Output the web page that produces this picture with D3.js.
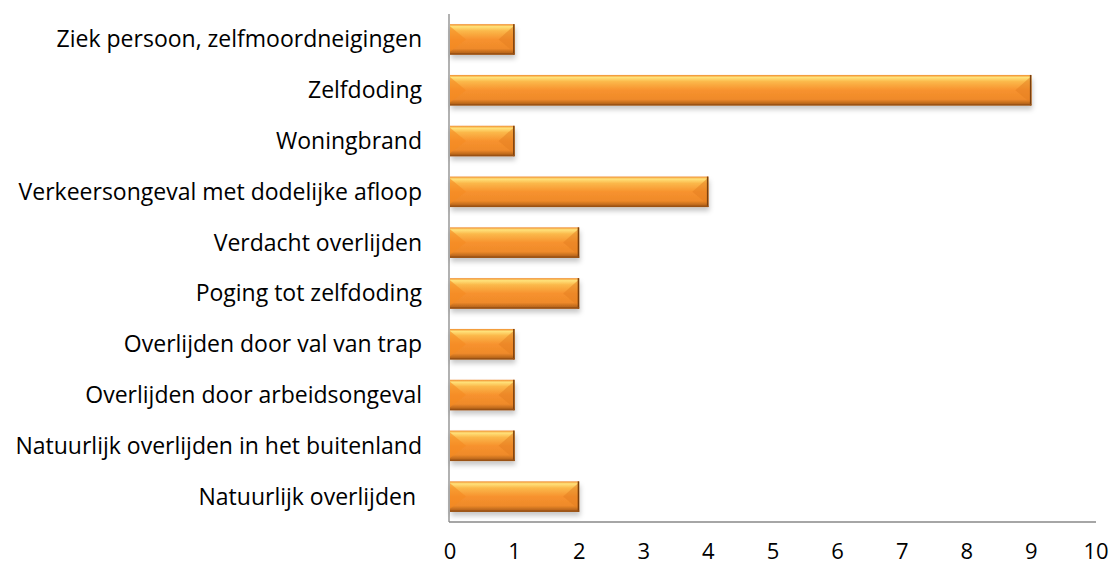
<!DOCTYPE html>
<html>
<head>
<meta charset="utf-8">
<script src="https://d3js.org/d3.v7.min.js"></script>
<style>
  body { margin: 0; background: #fff; }
  text { font-family: "Open Sans", Lato, sans-serif; fill: #000; }
</style>
</head>
<body>
<svg id="chart" width="1112" height="566"></svg>
<script>
// categories from top to bottom
var categories = [
  "Ziek persoon, zelfmoordneigingen",
  "Zelfdoding",
  "Woningbrand",
  "Verkeersongeval met dodelijke afloop",
  "Verdacht overlijden",
  "Poging tot zelfdoding",
  "Overlijden door val van trap",
  "Overlijden door arbeidsongeval",
  "Natuurlijk overlijden in het buitenland",
  "Natuurlijk overlijden "
];
var values = [1, 9, 1, 4, 2, 2, 1, 1, 1, 2];
var ticks = [0, 1, 2, 3, 4, 5, 6, 7, 8, 9, 10];

var svg = d3.select("#chart");
var margin = {top: 14, left: 450, right: 16, bottom: 44};
var width = 1112, height = 566;

var x = d3.scaleLinear().domain([0, 10]).range([margin.left, width - margin.right]);
var y = d3.scaleBand().domain(categories).range([margin.top, height - margin.bottom]).paddingInner(0.4).paddingOuter(0.2);

var defs = svg.append("defs");
var g = defs.append("linearGradient").attr("id", "barGrad").attr("x1", 0).attr("y1", 0).attr("x2", 0).attr("y2", 1);
[[0, "#f08a2c"], [0.08, "#ffe27a"], [0.22, "#fbb84a"], [0.5, "#f7922e"], [0.8, "#ef8a2a"], [0.9, "#c8701f"], [1, "#a85a18"]]
  .forEach(s => g.append("stop").attr("offset", s[0]).attr("stop-color", s[1]));

var f = defs.append("filter").attr("id", "shadow").attr("x", "-5%").attr("y", "-20%").attr("width", "115%").attr("height", "160%");
f.append("feDropShadow").attr("dx", 1).attr("dy", 4).attr("stdDeviation", 2.5).attr("flood-color", "#000").attr("flood-opacity", 0.22);

// axes lines
svg.append("line").attr("x1", x(0) - 1).attr("x2", x(0) - 1).attr("y1", margin.top).attr("y2", height - margin.bottom)
  .attr("stroke", "#888").attr("stroke-width", 1.3);
svg.append("line").attr("x1", x(0) - 1).attr("x2", x(10)).attr("y1", height - margin.bottom).attr("y2", height - margin.bottom)
  .attr("stroke", "#888").attr("stroke-width", 1.3);

var bars = svg.selectAll(".bar").data(categories).enter().append("g").attr("class", "bar");
var bev = 10;
bars.append("rect")
  .attr("x", x(0))
  .attr("y", d => y(d))
  .attr("width", (d, i) => x(values[i]) - x(0))
  .attr("height", y.bandwidth())
  .attr("fill", "url(#barGrad)")
  .attr("filter", "url(#shadow)");
// left bevel (lighter)
bars.append("path")
  .attr("d", d => {
    var y0 = y(d), h = y.bandwidth(), x0 = x(0);
    return "M" + x0 + "," + (y0 + 2) + "L" + (x0 + bev + 6) + "," + (y0 + h / 2) + "L" + x0 + "," + (y0 + h - 3) + "Z";
  })
  .attr("fill", "#f58a22").attr("opacity", 0.6);
// right bevel (darker)
bars.append("path")
  .attr("d", (d, i) => {
    var y0 = y(d), h = y.bandwidth(), x1 = x(values[i]);
    return "M" + x1 + "," + (y0 + 1) + "L" + (x1 - bev - 6) + "," + (y0 + h / 2) + "L" + x1 + "," + (y0 + h - 2) + "Z";
  })
  .attr("fill", "#e47d20").attr("opacity", 0.5);
bars.append("rect")
  .attr("x", (d, i) => x(values[i]) - 1.5)
  .attr("y", d => y(d))
  .attr("width", 1.5)
  .attr("height", y.bandwidth())
  .attr("fill", "#7a3f0d");
bars.append("rect")
  .attr("x", x(0))
  .attr("y", d => y(d) + y.bandwidth() - 1.5)
  .attr("width", (d, i) => x(values[i]) - x(0))
  .attr("height", 1.5)
  .attr("fill", "#9a5214");

// category labels (trailing spaces kept, as in the original)
svg.selectAll(".cat").data(categories).enter().append("text")
  .attr("class", "cat")
  .attr("x", 422)
  .attr("y", d => y(d) + y.bandwidth() / 2)
  .attr("dy", "0.35em")
  .attr("text-anchor", "end")
  .attr("xml:space", "preserve")
  .style("white-space", "pre")
  .style("font-size", "23px")
  .text(d => d);

// tick labels
svg.selectAll(".tick").data(ticks).enter().append("text")
  .attr("class", "tick")
  .attr("x", d => x(d))
  .attr("y", 559)
  .attr("text-anchor", "middle")
  .style("font-size", "22px")
  .text(d => d);
</script>
</body>
</html>
